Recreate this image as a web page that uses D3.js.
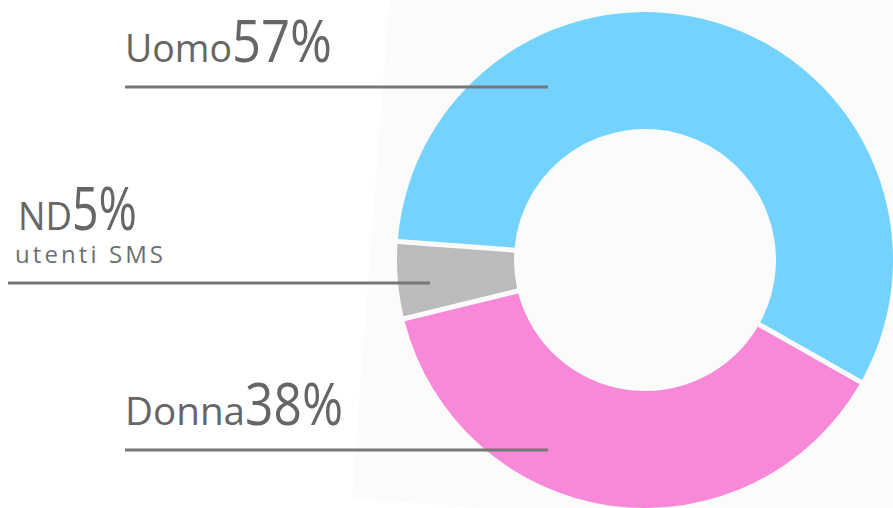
<!DOCTYPE html>
<html>
<head>
<meta charset="utf-8">
<script src="https://cdn.jsdelivr.net/npm/d3@7"></script>
<style>
  body { margin: 0; background: #ffffff; }
  svg { display: block; }
</style>
</head>
<body>
<svg id="drawing_region"></svg>
<script>
const categories = ["Uomo", "Donna", "ND"];
const values = [57, 38, 5];
const sublabels = ["", "", "utenti SMS"];
const colors = ["#74d3fe", "#f888d8", "#bbbbbb"];

var config = {
    parent: '#drawing_region',
    width: 893,
    height: 508,
    cx: 645, cy: 260,
    outer: 248, inner: 131
};

const svg = d3.select(config.parent)
    .attr('width', config.width)
    .attr('height', config.height);

// faint tilted card behind the donut
svg.append('rect')
    .attr('x', 352).attr('y', 498 - 700)
    .attr('width', 800).attr('height', 700)
    .attr('transform', 'rotate(4.3, 352, 498)')
    .style('fill', '#fbfbfb');

const deg = Math.PI / 180;
const pie = d3.pie()
    .sort(null)
    .value(d => d.value)
    .startAngle(274.3 * deg)
    .endAngle((274.3 + 360) * deg);

const arc = d3.arc()
    .innerRadius(config.inner)
    .outerRadius(config.outer)
    .padAngle(5 / config.outer)
    .padRadius(config.outer);

const data = categories.map((c, i) => ({ name: c, value: values[i], sub: sublabels[i], color: colors[i] }));

const chart = svg.append('g')
    .attr('transform', `translate(${config.cx}, ${config.cy})`);

chart.selectAll('path')
    .data(pie(data))
    .enter()
    .append('path')
    .attr('d', arc)
    .style('fill', d => d.data.color);

// label layout: name x, baseline y, widths, leader line
const labels = [
    { x: 125, y: 62, nameSize: 38, nameW: 107, pctSize: 59, pctW: 100, lineY: 87, x1: 125, x2: 548 },
    { x: 125, y: 425, nameSize: 38, nameW: 120, pctSize: 59, pctW: 98, lineY: 450, x1: 125, x2: 548 },
    { x: 18, y: 230, nameSize: 39, nameW: 54, pctSize: 60, pctW: 65, lineY: 283, x1: 8, x2: 430 }
];

const font = "'Open Sans', 'DejaVu Sans', sans-serif";

data.forEach((d, i) => {
    const l = labels[i];
    svg.append('text')
        .attr('x', l.x).attr('y', l.y)
        .attr('textLength', l.nameW)
        .attr('lengthAdjust', 'spacingAndGlyphs')
        .style('font-family', font)
        .style('font-size', l.nameSize + 'px')
        .style('fill', '#666666')
        .text(d.name);
    svg.append('text')
        .attr('x', l.x + l.nameW).attr('y', l.y)
        .attr('textLength', l.pctW)
        .attr('lengthAdjust', 'spacingAndGlyphs')
        .style('font-family', font)
        .style('font-size', l.pctSize + 'px')
        .style('fill', '#666666')
        .text(d.value + '%');
    if (d.sub) {
        svg.append('text')
            .attr('x', 15).attr('y', 263)
            .attr('textLength', 148)
            .attr('lengthAdjust', 'spacing')
            .style('font-family', font)
            .style('font-size', '24px')
            .style('fill', '#6e6e6e')
            .text(d.sub);
    }
    svg.append('line')
        .attr('x1', l.x1).attr('x2', l.x2)
        .attr('y1', l.lineY).attr('y2', l.lineY)
        .style('stroke', '#777777')
        .style('stroke-width', 3);
});
</script>
</body>
</html>
